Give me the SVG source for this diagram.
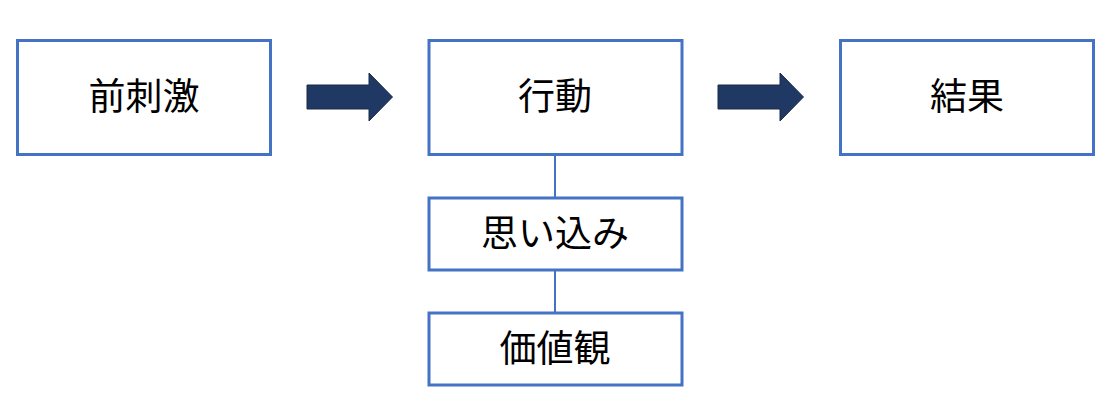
<svg xmlns="http://www.w3.org/2000/svg" width="1119" height="418" viewBox="0 0 1119 418">
<style>
.box{fill:#fff;stroke:#4472C4;stroke-width:3}
.lbl{font-family:"Noto Sans CJK JP","Noto Sans CJK SC",sans-serif;font-size:37px;fill:#000;text-anchor:middle;dominant-baseline:central}
.arr{fill:#203864;stroke:#1a2a4a;stroke-width:1}
.con{stroke:#4472C4;stroke-width:2;fill:none}
</style>
<rect width="1119" height="418" fill="#fff"/>
<g id="connectors">
<line class="con" x1="555" y1="155" x2="555" y2="197"/>
<line class="con" x1="555" y1="271" x2="555" y2="312"/>
<path class="arr" d="M307,85 H369 V73 L392.5,97 L369,121 V109 H307 Z"/>
<path class="arr" d="M718,85 H780 V73 L803.5,97 L780,121 V109 H718 Z"/>
</g>
<g id="node-zenshigeki">
<rect class="box" x="17.5" y="40.5" width="253" height="114"/>
<text class="lbl" x="144" y="94">前刺激</text>
</g>
<g id="node-koudou">
<rect class="box" x="429" y="40.5" width="253" height="114"/>
<text class="lbl" x="555" y="94">行動</text>
</g>
<g id="node-kekka">
<rect class="box" x="840.5" y="40.5" width="253" height="114"/>
<text class="lbl" x="967" y="94">結果</text>
</g>
<g id="node-omoikomi">
<rect class="box" x="429" y="198" width="253" height="72"/>
<text class="lbl" x="555" y="231">思い込み</text>
</g>
<g id="node-kachikan">
<rect class="box" x="429" y="313" width="253" height="72"/>
<text class="lbl" x="555" y="346">価値観</text>
</g>
</svg>
